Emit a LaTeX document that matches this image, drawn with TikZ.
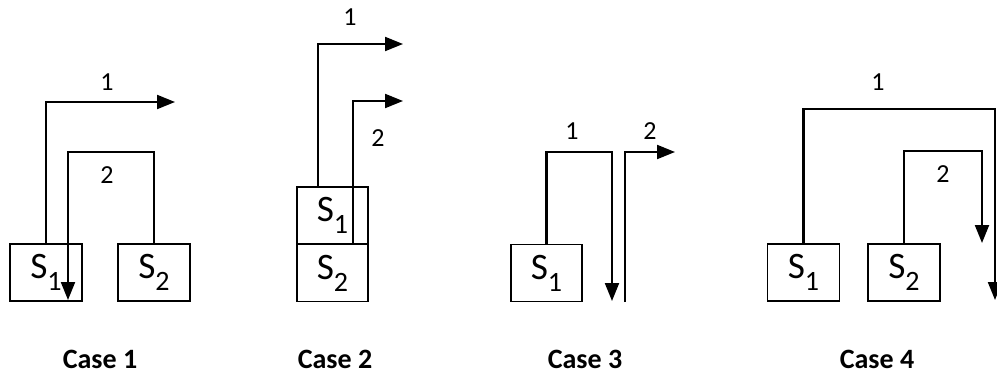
\documentclass[tikz,border=0pt]{standalone}
\usepackage{fontspec}
\setmainfont{Carlito}
\usetikzlibrary{arrows.meta}
\newcommand{\subsc}[1]{\raisebox{-0.32em}{\fontsize{21}{21}\selectfont #1}}
\tikzset{
  sbox/.style={draw, line width=1.1pt, inner sep=0pt, minimum width=54pt, minimum height=43pt,
    font=\fontsize{28}{30}\selectfont},
  arr/.style={line width=1.6pt, -{Triangle[length=13.5pt,width=10.5pt]}},
  num/.style={inner sep=0pt, font=\fontsize{19.5}{21}\selectfont},
  caselab/.style={inner sep=0pt, font=\fontsize{21}{24}\selectfont\bfseries}
}
\begin{document}
\begin{tikzpicture}[x=0.75pt,y=-0.75pt]
\useasboundingbox (0,0) rectangle (997,378);
% Case 1
\node[sbox] (c1s1) at (46,272.5) {S\subsc{1}};
\node[sbox] (c1s2) at (154,272.5) {S\subsc{2}};
\coordinate (c1e1) at (175,102);
\coordinate (c1k2) at (68,152);
\coordinate (c1e2) at (68,300);
\draw[arr] (c1s1.north) |- (c1e1);
\draw[arr] (c1s2.north) |- (c1k2) -- (c1e2);
\node[num] (c1n1) at (107,82) {1};
\node[num] (c1n2) at (107,175) {2};
\node[caselab] (c1lab) at (100,359) {Case 1};
% Case 2
\node[sbox, minimum width=53pt] (c2s1) at (332.5,215.5) {S\subsc{1}};
\node[sbox, minimum width=53pt] (c2s2) at (332.5,273) {S\subsc{2}};
\coordinate (c2e1) at (403,44);
\coordinate (c2b1) at (318,44);
\coordinate (c2e2) at (403,101);
\coordinate (c2b2) at (353,101);
\draw[arr] (c2s1.north -| c2b1) |- (c2e1);
\draw[arr] (c2s1.south -| c2b2) |- (c2e2);
\node[num] (c2n1) at (350,17) {1};
\node[num] (c2n2) at (378,138) {2};
\node[caselab] (c2lab) at (335,359) {Case 2};
% Case 3
\node[sbox, minimum width=53pt] (c3s1) at (546.5,273) {S\subsc{1}};
\coordinate (c3k1) at (612,152);
\coordinate (c3e1) at (612,301);
\coordinate (c3p2) at (625,302);
\coordinate (c3k2) at (625,152);
\coordinate (c3e2) at (675,152);
\draw[arr] (c3s1.north) |- (c3k1) -- (c3e1);
\draw[arr] (c3p2) -- (c3k2) -- (c3e2);
\node[num] (c3n1) at (572,131) {1};
\node[num] (c3n2) at (650,131) {2};
\node[caselab] (c3lab) at (585,359) {Case 3};
% Case 4
\node[sbox] (c4s1) at (803.5,272.5) {S\subsc{1}};
\node[sbox] (c4s2) at (904,272.5) {S\subsc{2}};
\coordinate (c4k1) at (995,109);
\coordinate (c4e1) at (995,300);
\coordinate (c4k2) at (982,151);
\coordinate (c4e2) at (982,243);
\draw[arr] (c4s1.north) |- (c4k1) -- (c4e1);
\draw[arr] (c4s2.north) |- (c4k2) -- (c4e2);
\node[num] (c4n1) at (878,82) {1};
\node[num] (c4n2) at (943,174) {2};
\node[caselab] (c4lab) at (877,359) {Case 4};
\end{tikzpicture}
\end{document}
